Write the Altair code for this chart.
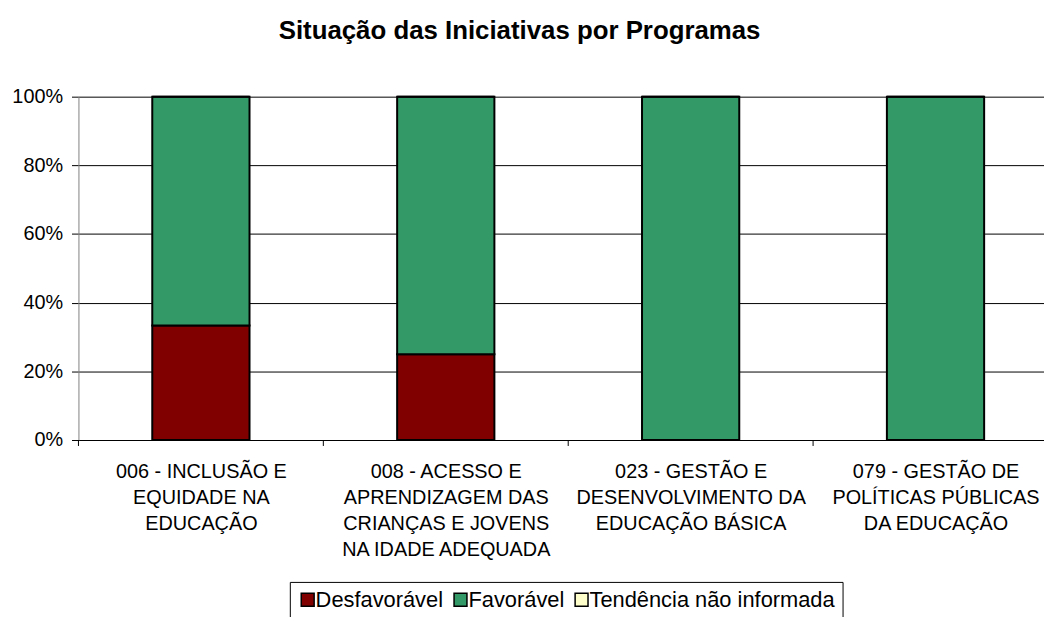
import json
import altair as alt
import pandas as pd

programas = [
    "006 - INCLUSÃO E EQUIDADE NA EDUCAÇÃO",
    "008 - ACESSO E APRENDIZAGEM DAS CRIANÇAS E JOVENS NA IDADE ADEQUADA",
    "023 - GESTÃO E DESENVOLVIMENTO DA EDUCAÇÃO BÁSICA",
    "079 - GESTÃO DE POLÍTICAS PÚBLICAS DA EDUCAÇÃO",
]
rotulos = [
    "006 - INCLUSÃO E|EQUIDADE NA|EDUCAÇÃO",
    "008 - ACESSO E|APRENDIZAGEM DAS|CRIANÇAS E JOVENS|NA IDADE ADEQUADA",
    "023 - GESTÃO E|DESENVOLVIMENTO DA|EDUCAÇÃO BÁSICA",
    "079 - GESTÃO DE|POLÍTICAS PÚBLICAS|DA EDUCAÇÃO",
]
situacoes = ["Desfavorável", "Favorável", "Tendência não informada"]
cores = ["#800000", "#339966", "#FFFFCC"]
desfavoravel = [33.33, 25.0, 0.0, 0.0]
favoravel = [66.67, 75.0, 100.0, 100.0]
nao_informada = [0.0, 0.0, 0.0, 0.0]
limites = [0, 1, 2, 3]

rows = []
for i, p in enumerate(programas):
    for j, (s, v) in enumerate(zip(situacoes, [desfavoravel[i], favoravel[i], nao_informada[i]])):
        rows.append({"programa": p, "idx": i, "situacao": s, "valor": v, "ordem": j})
df = pd.DataFrame(rows)
df_lim = pd.DataFrame({"b": limites})

FONT = "Liberation Sans"
W = 973
xscale = alt.Scale(domain=[0, 3.943], nice=False, zero=False, padding=0)

label_expr = ("split(" + json.dumps(rotulos, ensure_ascii=False)
              + "[floor(datum.value)], '|')")
xaxis = alt.Axis(values=[0.5, 1.5, 2.5, 3.5], labelExpr=label_expr,
                 ticks=False, domainColor="black", labelPadding=22,
                 labelLimit=400, labelLineHeight=26, labelFontSize=20,
                 labelFont=FONT, labelColor="black", labelAngle=0,
                 labelAlign="center", grid=False, labelFlush=False,
                 labelOverlap=False)

bars = alt.Chart(df).transform_calculate(
    centro="datum.idx + 0.5"
).mark_bar(stroke="black", strokeWidth=2, size=98).encode(
    x=alt.X("centro:Q", title=None, scale=xscale, axis=xaxis),
    y=alt.Y("valor:Q", stack="normalize", title=None,
            scale=alt.Scale(domain=[0, 1], nice=False),
            axis=alt.Axis(format="%", values=[0, 0.2, 0.4, 0.6, 0.8, 1.0],
                          tickSize=7, tickColor="black", domainColor="#808080",
                          gridColor="black", gridOpacity=1, labelPadding=9,
                          labelFontSize=20, labelFont=FONT, labelColor="black")),
    color=alt.Color("situacao:N", sort=situacoes,
                    scale=alt.Scale(domain=situacoes, range=cores),
                    legend=alt.Legend(title=None, orient="none", legendX=213, legendY=489,
                                      direction="horizontal", symbolType="square",
                                      symbolSize=169, symbolStrokeColor="black",
                                      symbolStrokeWidth=1.5, symbolOpacity=1,
                                      labelFontSize=22, labelFont=FONT, labelColor="black",
                                      labelLimit=400,
                                      strokeColor="black", padding=7, columnPadding=6,
                                      labelOffset=alt.ExprRef(expr="-3"))),
    order=alt.Order("ordem:Q"),
)

ticks = alt.Chart(df_lim).mark_rule(color="black", strokeWidth=1).encode(
    x=alt.X("b:Q", title=None, scale=xscale, axis=xaxis),
    y=alt.value(346),
    y2=alt.value(352),
)

chart = alt.layer(bars, ticks).properties(
    width=W, height=346,
    title=alt.TitleParams("Situação das Iniciativas por Programas", fontSize=26,
                          fontWeight="bold", font=FONT, color="black",
                          anchor="middle", dx=-42, offset=43),
    autosize=alt.AutoSizeParams(type="none"),
    padding={"left": 71, "top": 87, "right": 0, "bottom": 176},
).configure_view(stroke=None)

chart.save("out.html", embed_options={"renderer": "svg", "actions": False})
